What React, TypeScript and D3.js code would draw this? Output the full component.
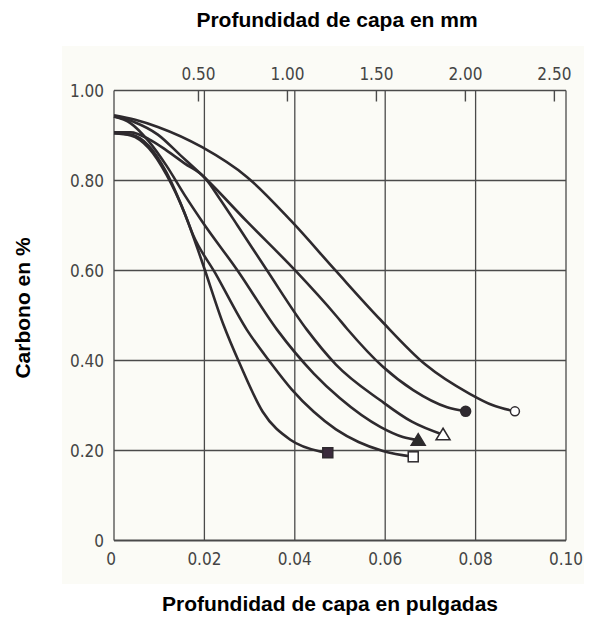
import React from "react";
import * as d3 from "d3";

const xTicks = [0, 0.02, 0.04, 0.06, 0.08, 0.1];
const xTickLabels = ["0", "0.02", "0.04", "0.06", "0.08", "0.10"];
const yTicks = [0, 0.2, 0.4, 0.6, 0.8, 1.0];
const yTickLabels = ["0", "0.20", "0.40", "0.60", "0.80", "1.00"];
const mmTicks = [0.5, 1.0, 1.5, 2.0, 2.5];
const mmTickLabels = ["0.50", "1.00", "1.50", "2.00", "2.50"];

// [inches, carbon %]
const filledSquare: [number, number][] = [[0,0.905],[0.0037,0.900],[0.0077,0.872],[0.0116,0.813],[0.0156,0.728],[0.0195,0.619],[0.0242,0.480],[0.0279,0.391],[0.0329,0.286],[0.0390,0.224],[0.0456,0.198],[0.0473,0.195]];
const openSquare: [number, number][] = [[0,0.905],[0.0037,0.902],[0.0077,0.877],[0.0116,0.818],[0.0156,0.728],[0.0175,0.679],[0.0224,0.594],[0.0294,0.468],[0.0345,0.397],[0.0393,0.336],[0.0442,0.286],[0.0491,0.247],[0.0541,0.219],[0.0595,0.199],[0.0662,0.186]];
const filledTriangle: [number, number][] = [[0,0.942],[0.0037,0.927],[0.0077,0.887],[0.0116,0.833],[0.0156,0.768],[0.0195,0.709],[0.0274,0.599],[0.0361,0.468],[0.0442,0.371],[0.0500,0.316],[0.0590,0.252],[0.0639,0.230],[0.0673,0.223]];
const openTriangle: [number, number][] = [[0,0.907],[0.0037,0.907],[0.0077,0.892],[0.0116,0.867],[0.0156,0.838],[0.0201,0.806],[0.0235,0.758],[0.0274,0.699],[0.0338,0.601],[0.0427,0.468],[0.0491,0.391],[0.0590,0.311],[0.0659,0.264],[0.0728,0.235]];
const filledCircle: [number, number][] = [[0,0.942],[0.0047,0.929],[0.0097,0.902],[0.0146,0.857],[0.0201,0.806],[0.0294,0.709],[0.0402,0.599],[0.0491,0.500],[0.0516,0.470],[0.0595,0.386],[0.0662,0.334],[0.0737,0.296],[0.0778,0.287]];
const openCircle: [number, number][] = [[0,0.945],[0.0047,0.935],[0.0097,0.919],[0.0195,0.874],[0.0294,0.808],[0.0393,0.709],[0.0491,0.599],[0.0590,0.490],[0.0689,0.391],[0.0787,0.326],[0.0837,0.301],[0.0887,0.287]];

const series = [
  { data: filledSquare, marker: "square", filled: true },
  { data: openSquare, marker: "square", filled: false },
  { data: filledTriangle, marker: "triangle", filled: true },
  { data: openTriangle, marker: "triangle", filled: false },
  { data: filledCircle, marker: "circle", filled: true },
  { data: openCircle, marker: "circle", filled: false },
];

const W = 592, H = 617;
const x = d3.scaleLinear().domain([0, 0.1]).range([114, 566]);
const y = d3.scaleLinear().domain([0, 1]).range([540.5, 90.5]);
const mmX = d3.scaleLinear().domain([0, 2.5]).range([x(0) - 4.5, x(2.5 / 25.4) - 4.5]);

const tickFont = "'Liberation Sans Narrow', 'DejaVu Sans Condensed', 'Liberation Sans', sans-serif";
const titleFont = "'Liberation Sans', Arial, sans-serif";
const ink = "#2e2a2e";
const grid = "#4a4a4a";

export default function App() {
  const line = d3.line<[number, number]>().x(d => x(d[0])).y(d => y(d[1])).curve(d3.curveMonotoneX);
  return (
    <svg width={W} height={H} style={{ position: "absolute", left: 0, top: 0, background: "#fff" }}>
      <rect x={62} y={46} width={522} height={538} fill="#fbfbf6" />
      {/* grid */}
      {xTicks.map((t, i) => (
        <line key={"vx" + i} x1={x(t)} x2={x(t)} y1={y(0)} y2={y(1)} stroke={grid} strokeWidth={1.3} />
      ))}
      {yTicks.map((t, i) => (
        <line key={"hy" + i} x1={x(0)} x2={x(0.1)} y1={y(t)} y2={y(t)} stroke={grid} strokeWidth={t === 0 ? 2 : 1.3} />
      ))}
      {/* mm ticks */}
      {mmTicks.map((t, i) => (
        <line key={"mm" + i} x1={mmX(t)} x2={mmX(t)} y1={y(1)} y2={y(1) + 11} stroke={grid} strokeWidth={1.4} />
      ))}
      {mmTicks.map((t, i) => (
        <text key={"mml" + i} x={mmX(t)} y={80} textAnchor="middle" fontFamily={tickFont} fontSize={17} fill="#444">{mmTickLabels[i]}</text>
      ))}
      {yTicks.map((t, i) => (
        <text key={"yl" + i} x={104} y={y(t) + 6} textAnchor="end" fontFamily={tickFont} fontSize={17} fill="#444">{yTickLabels[i]}</text>
      ))}
      {xTicks.map((t, i) => (
        <text key={"xl" + i} x={i === 0 ? x(t) - 3 : x(t)} y={565} textAnchor="middle" fontFamily={tickFont} fontSize={17} fill="#444">{xTickLabels[i]}</text>
      ))}
      {/* curves */}
      {series.map((s, i) => (
        <path key={"c" + i} d={line(s.data) || ""} fill="none" stroke={ink} strokeWidth={2.6} />
      ))}
      {/* markers */}
      {series.map((s, i) => {
        const [lx, ly] = s.data[s.data.length - 1];
        const cx = x(lx), cy = y(ly);
        const fill = s.filled ? "#3a2b3c" : "#ffffff";
        if (s.marker === "square") {
          return <rect key={"m" + i} x={cx - 5} y={cy - 5} width={10} height={10} fill={fill} stroke={ink} strokeWidth={1.5} />;
        }
        if (s.marker === "triangle") {
          const p = `${cx},${cy - 6.5} ${cx + 7},${cy + 5} ${cx - 7},${cy + 5}`;
          return <polygon key={"m" + i} points={p} fill={s.filled ? "#2b2b2b" : "#fff"} stroke={ink} strokeWidth={1.5} />;
        }
        return <circle key={"m" + i} cx={cx} cy={cy} r={s.filled ? 5 : 4.5} fill={s.filled ? "#2f2a30" : "#fff"} stroke={ink} strokeWidth={1.5} />;
      })}
      {/* titles */}
      <text x={337} y={27} textAnchor="middle" fontFamily={titleFont} fontWeight="bold" fontSize={21} fill="#000">Profundidad de capa en mm</text>
      <text x={330} y={611} textAnchor="middle" fontFamily={titleFont} fontWeight="bold" fontSize={21} fill="#000">Profundidad de capa en pulgadas</text>
      <text transform={`translate(30,308) rotate(-90)`} textAnchor="middle" fontFamily={titleFont} fontWeight="bold" fontSize={21} fill="#000">Carbono en %</text>
    </svg>
  );
}
